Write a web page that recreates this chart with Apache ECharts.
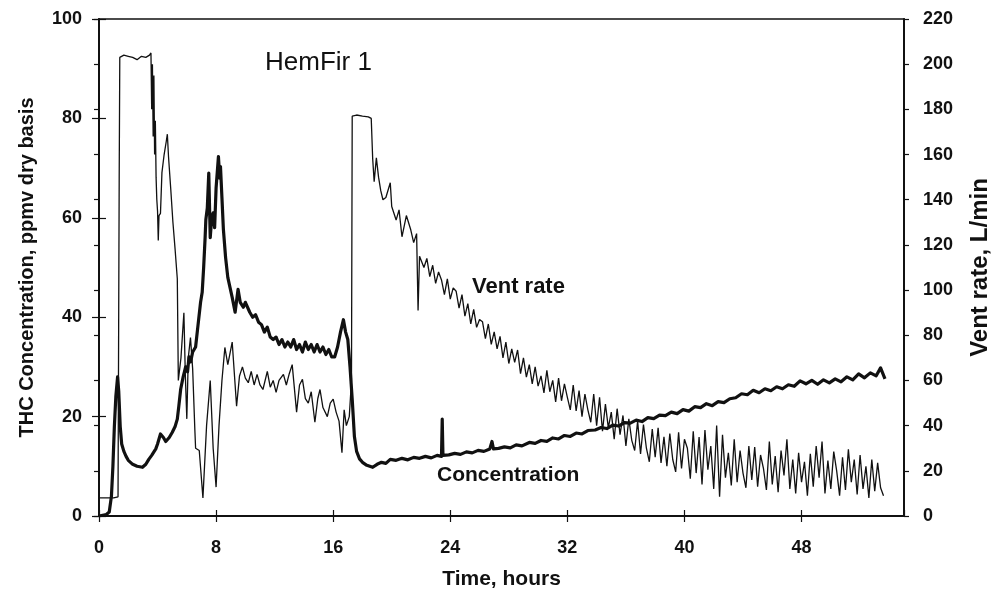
<!DOCTYPE html>
<html><head><meta charset="utf-8">
<script src="https://cdn.jsdelivr.net/npm/echarts@6/dist/echarts.min.js"></script>
<style>html,body{margin:0;padding:0;background:#fff}#c{width:993px;height:602px}</style>
</head><body><div id="c"></div>
<script>
// ---- data (hours, value) ----
const xTickValues = [0, 8, 16, 24, 32, 40, 48];
const leftTicks = [0, 20, 40, 60, 80, 100];
const rightTicks = [0, 20, 40, 60, 80, 100, 120, 140, 160, 180, 200, 220];
const titleText = 'HemFir 1';
const ventLabel = 'Vent rate';
const concLabel = 'Concentration';

// THC concentration, ppmv (left axis)
const concentration = [
[0,0],[0.5,0.3],[0.7,0.8],[0.85,4],[0.95,10],[1.05,18],[1.15,24],[1.27,28],[1.35,25],[1.45,18],[1.55,14.5],[1.7,13],[1.85,12],[2.0,11.2],[2.3,10.4],[2.6,10],[2.97,9.8],[3.2,10.4],[3.4,11.4],[3.6,12.2],[3.88,13.5],[4.0,14.5],[4.2,16.5],[4.4,15.8],[4.56,15],[4.8,15.8],[5.0,16.8],[5.2,18],[5.35,19.5],[5.45,22],[5.58,25.5],[5.75,28],[5.92,30],[6.05,29],[6.15,32],[6.26,31],[6.4,33],[6.6,34],[6.75,38],[6.94,43],[7.05,45],[7.15,50],[7.25,56],[7.3,59.6],[7.4,62],[7.5,69],[7.6,56],[7.7,60],[7.8,61],[7.9,58],[8.0,66],[8.16,72.3],[8.25,68],[8.3,70.3],[8.4,64],[8.5,57.6],[8.65,52],[8.8,48],[8.95,46],[9.1,44],[9.3,41],[9.5,45.6],[9.65,43],[9.86,42],[10.0,43],[10.3,41],[10.5,40],[10.7,40.5],[10.9,39],[11.1,38.5],[11.3,37],[11.5,38],[11.7,36],[11.9,35.5],[12.1,36],[12.3,34.5],[12.5,35.5],[12.7,34],[12.9,35],[13.1,34],[13.3,35.5],[13.5,33.5],[13.7,34.5],[13.9,33],[14.1,35],[14.3,33.5],[14.5,34.5],[14.7,33],[14.9,34.5],[15.1,33],[15.3,34],[15.5,32.5],[15.7,33.5],[15.9,32],[16.1,32],[16.3,34],[16.5,37],[16.7,39.5],[16.85,37],[17.0,35.5],[17.15,30],[17.3,23.5],[17.45,16],[17.6,13],[17.8,11.5],[18.0,10.8],[18.3,10.2],[18.7,9.8],[19.0,10.4],[19.3,10.8],[19.6,10.6],[19.9,11.4],[20.3,11.2],[20.7,11.6],[21.1,11.3],[21.5,11.8],[21.9,11.6],[22.3,12],[22.7,11.7],[23.1,12.2],[23.4,12],[23.45,19.5],[23.5,12.2],[23.9,12.3],[24.3,12.6],[24.7,12.4],[25.1,12.9],[25.5,12.7],[25.9,13.2],[26.3,13],[26.7,13.5],[26.85,15],[26.95,13.5],[27.3,13.6],[27.7,13.9],[28.1,13.7],[28.5,14.3],[28.9,14.1],[29.4,14.8],[29.8,14.6],[30.2,15.2],[30.6,15],[31.0,15.7],[31.4,15.5],[31.8,16.2],[32.2,16],[32.6,16.7],[33.0,16.5],[33.4,17.2],[33.9,17.3],[34.3,17.8],[34.7,17.6],[35.1,18.3],[35.5,18.1],[35.9,18.8],[36.3,18.7],[36.7,19.3],[37.1,19],[37.5,19.8],[37.9,19.6],[38.3,20.3],[38.7,20.2],[39.1,20.9],[39.5,20.6],[39.9,21.4],[40.3,21.1],[40.7,22],[41.1,21.8],[41.5,22.6],[41.9,22.2],[42.3,23],[42.7,22.8],[43.1,23.6],[43.5,23.8],[43.9,24.6],[44.3,24.4],[44.7,25.3],[45.1,24.8],[45.5,25.6],[45.9,25.2],[46.3,26],[46.7,25.6],[47.1,26.4],[47.5,26.1],[47.9,27.2],[48.3,26.6],[48.7,27.3],[49.1,26.5],[49.5,27.4],[49.9,26.8],[50.3,27.6],[50.7,27],[51.1,28],[51.5,27.4],[51.9,28.6],[52.3,27.8],[52.7,28.8],[53.1,28.2],[53.4,29.8],[53.7,27.6]
];

// Vent rate, L/min (right axis)
const ventRate = [
[0,8],[0.5,8],[1.0,8],[1.3,8.5],[1.38,150],[1.42,203],[1.7,204],[2.0,203.5],[2.3,203],[2.6,202],[2.9,203.5],[3.2,203],[3.45,204],[3.55,205],[3.6,180],[3.65,200],[3.7,168],[3.75,195],[3.8,160],[3.85,175],[3.9,150],[3.95,140],[4.0,135],[4.05,122],[4.1,133],[4.2,134],[4.3,152],[4.45,160],[4.6,166],[4.67,169],[4.75,159],[4.9,145],[5.05,130],[5.2,118],[5.35,105],[5.42,60],[5.6,70],[5.8,90],[5.9,62],[6.0,43],[6.1,70],[6.25,79],[6.4,65],[6.55,38],[6.6,30],[6.85,29],[7.1,8],[7.35,40],[7.6,60],[7.8,30],[8.0,12.8],[8.2,40],[8.4,60],[8.6,74.6],[8.8,67],[9.1,77],[9.4,48.6],[9.6,62],[9.8,66],[10.0,61],[10.2,59],[10.4,64],[10.6,58],[10.8,62.7],[11.0,58],[11.2,56],[11.5,64],[11.7,57],[11.9,60],[12.1,54.7],[12.3,60],[12.6,62.7],[12.8,58],[13.0,63],[13.2,67],[13.5,46],[13.7,58],[13.9,60.5],[14.1,52],[14.3,50],[14.5,55],[14.75,41.5],[14.95,52],[15.1,56],[15.3,48],[15.6,44],[15.8,50],[16.0,51.7],[16.2,46],[16.4,42],[16.6,28],[16.75,47],[16.9,40],[17.1,44],[17.25,60],[17.3,177],[17.6,177.5],[18.0,177],[18.4,176.7],[18.6,176],[18.7,158],[18.8,148],[18.95,158.5],[19.1,150],[19.25,144],[19.4,140],[19.6,141],[19.9,147.5],[20.0,137],[20.3,131],[20.5,135.5],[20.7,123.6],[21.0,133],[21.3,126.7],[21.5,121],[21.7,125],[21.8,91],[21.9,115],[22.2,110],[22.4,114],[22.6,106],
[22.8,111],[23.0,103],[23.2,108],[23.4,104.5],[23.6,98],[23.8,105],[24.0,96],[24.2,101],[24.4,99.5],[24.6,92],[24.8,98],[25.0,88.5],[25.2,94],[25.4,85],[25.6,91.5],[25.8,83.5],[26.0,87],[26.2,86],[26.4,78.5],[26.6,85],[26.8,76],[27.0,81.5],[27.2,74],[27.4,79.5],[27.6,70],[27.8,77],[28.0,67.5],[28.2,74],[28.4,68],[28.6,73.5],[28.8,63],[29.0,70],[29.2,61.5],[29.4,67],[29.6,58.5],[29.8,66],[30.0,57.5],[30.2,62],[30.4,54.5],[30.6,64.5],[30.8,55],[31.0,60],[31.2,50.5],[31.4,61],[31.6,51],[31.8,58.5],[32.0,52.5],[32.2,47],[32.4,58],[32.6,46.5],[32.8,55.5],[33.0,44],[33.2,54],[33.4,47],[33.6,41.5],[33.8,54],[34.0,40],[34.2,52.5],[34.4,37.5],[34.6,49.5],[34.8,39],[35.0,46],[35.2,34],[35.4,47.5],[35.6,36],[35.8,44.5],[36.0,31],[36.2,43],[36.4,33.5],[36.6,29],[36.8,42],[37.0,27.5],[37.2,40.5],[37.4,30],[37.6,24],[37.8,38.5],[38.0,26],[38.2,39],[38.4,23.5],[38.6,35],[38.8,22],[39.0,36.5],[39.2,25],[39.4,19.5],[39.6,37],[39.8,21],[40.0,34],[40.2,30],[40.4,16.5],[40.6,37.5],[40.8,19],[41.0,35],[41.2,14],[41.4,38],[41.6,20.5],[41.8,31],[42.0,12],[42.2,40],[42.4,8.5],[42.6,36],[42.8,17],[43.0,28],[43.2,13.5],[43.4,34],[43.6,15],[43.8,29],[44.0,19],[44.2,12.5],[44.4,31],[44.6,16],[44.8,30.5],[45.0,13],[45.2,27],[45.4,21],[45.6,11.5],[45.8,33],[46.0,14],[46.2,26.5],[46.4,10.5],[46.6,29],[46.8,18],[47.0,34],[47.2,12],[47.4,25],[47.6,10],[47.8,28],[48.0,15],[48.2,24],[48.4,9],[48.6,27.5],[48.8,13],[49.0,31],[49.2,17],[49.4,33],[49.6,10],[49.8,24.5],[50.0,12],[50.2,28.5],[50.4,20],[50.6,9],[50.8,26],[51.0,11.5],[51.2,29.5],[51.4,15],[51.6,25],[51.8,9.5],[52.0,27],[52.2,12],[52.4,22],[52.6,8],[52.8,25],[53.0,11],[53.2,23.5],[53.4,12.5],[53.6,9]
];

const FONT = "'Liberation Sans', Arial, sans-serif";
const chart = echarts.init(document.getElementById('c'), null, {renderer: 'canvas'});

const labelStyle = {color: '#111', fontFamily: FONT, fontWeight: 'bold', fontSize: 18};
const nameStyle = {color: '#111', fontFamily: FONT, fontWeight: 'bold', fontSize: 20};

chart.setOption({
  animation: false,
  backgroundColor: '#fff',
  grid: {left: 99, right: 89, top: 19, bottom: 86, outerBoundsMode: 'none', containLabel: false,
    show: true, borderColor: '#111', borderWidth: 1.5, backgroundColor: 'transparent'},
  xAxis: [{
    type: 'value', min: 0, max: 55, interval: 8,
    name: 'Time, hours', nameLocation: 'middle', nameGap: 53, nameTextStyle: Object.assign({}, nameStyle, {fontSize: 21}),
    axisLine: {show: true, onZero: false, lineStyle: {color: '#111', width: 2}},
    axisTick: {show: true, length: 6, lineStyle: {color: '#111', width: 1.2}},
    axisLabel: Object.assign({margin: 23, showMaxLabel: false,
      formatter: v => xTickValues.indexOf(v) >= 0 ? String(v) : ''}, labelStyle),
    splitLine: {show: false}
  }, {
    type: 'value', min: 0, max: 55, interval: 8, position: 'bottom',
    axisLine: {show: false}, axisLabel: {show: false}, splitLine: {show: false},
    axisTick: {show: true, inside: true, length: 6, lineStyle: {color: '#111', width: 1.2}}
  }],
  yAxis: [{
    type: 'value', min: 0, max: 100, interval: 20, position: 'left',
    name: 'THC Concentration, ppmv dry basis', nameLocation: 'middle', nameGap: 62, nameRotate: 90,
    nameTextStyle: nameStyle,
    axisLine: {show: true, onZero: false, lineStyle: {color: '#111', width: 2}},
    axisTick: {show: true, length: 7, lineStyle: {color: '#111', width: 1.2}},
    axisLabel: Object.assign({margin: 17, formatter: v => leftTicks.indexOf(v) >= 0 ? String(v) : ''}, labelStyle),
    splitLine: {show: false}
  }, {
    type: 'value', min: 0, max: 220, interval: 20, position: 'right',
    name: 'Vent rate, L/min', nameLocation: 'middle', nameGap: 64, nameRotate: 90,
    nameTextStyle: Object.assign({}, nameStyle, {fontSize: 24}),
    axisLine: {show: true, onZero: false, lineStyle: {color: '#111', width: 2}},
    axisTick: {show: true, length: 5, lineStyle: {color: '#111', width: 1.2}},
    axisLabel: Object.assign({margin: 19, formatter: v => rightTicks.indexOf(v) >= 0 ? String(v) : ''}, labelStyle),
    splitLine: {show: false}
  }, {
    type: 'value', min: 0, max: 100, interval: 20, position: 'left',
    axisLine: {show: false}, axisLabel: {show: false}, splitLine: {show: false},
    axisTick: {show: true, inside: true, length: 7, lineStyle: {color: '#111', width: 1.2}}
  }, {
    type: 'value', min: 0, max: 220, interval: 20, position: 'right',
    axisLine: {show: false}, axisLabel: {show: false}, splitLine: {show: false},
    axisTick: {show: true, inside: true, length: 5, lineStyle: {color: '#111', width: 1.2}}
  }],
  series: [{
    name: ventLabel, type: 'line', xAxisIndex: 0, yAxisIndex: 1, data: ventRate,
    showSymbol: false, symbol: 'none', smooth: false,
    lineStyle: {color: '#111', width: 1.3}, z: 2
  }, {
    name: concLabel, type: 'line', xAxisIndex: 0, yAxisIndex: 0, data: concentration,
    showSymbol: false, symbol: 'none', smooth: false,
    lineStyle: {color: '#111', width: 3.2, join: 'round'}, z: 3
  }],
  graphic: [
    {type: 'text', left: 265, top: 50, style: {text: titleText, fill: '#111', font: "normal 26px 'Liberation Sans', Arial, sans-serif"}},
    {type: 'text', left: 472, top: 276, style: {text: ventLabel, fill: '#111', font: "bold 22px 'Liberation Sans', Arial, sans-serif"}},
    {type: 'text', left: 437, top: 465, style: {text: concLabel, fill: '#111', font: "bold 21px 'Liberation Sans', Arial, sans-serif"}}
  ]
});
</script>
</body></html>
